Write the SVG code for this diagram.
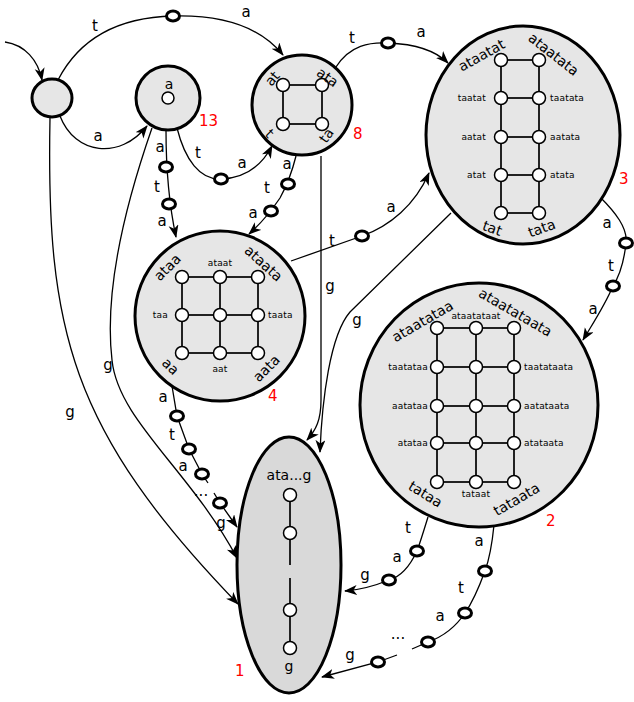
<svg xmlns="http://www.w3.org/2000/svg" width="634" height="702" viewBox="0 0 634 702">
<defs>
<marker id="arr" markerUnits="userSpaceOnUse" markerWidth="14" markerHeight="12" refX="12" refY="5" orient="auto">
<path d="M0,0 L13,5 L0,10 L3.5,5 z" fill="#000"/>
</marker>
<style>
.node{fill:#e6e6e6;stroke:#000;stroke-width:3}
.n1{fill:#d9d9d9;stroke:#000;stroke-width:3}
.c{fill:none;stroke:#000;stroke-width:1.3}
.ca{fill:none;stroke:#000;stroke-width:1.3;marker-end:url(#arr)}
.st{fill:#fff;stroke:#000;stroke-width:3}
.g{stroke:#222;stroke-width:2;fill:none}
.v{fill:#fff;stroke:#000;stroke-width:1.5}
.lb{font-family:"DejaVu Sans",sans-serif;font-size:15px;text-anchor:middle;fill:#000}
.sm{font-family:"DejaVu Sans",sans-serif;font-size:9px;fill:#000;letter-spacing:0.2px}
.rl{font-family:"DejaVu Sans",sans-serif;font-size:14px;text-anchor:middle;fill:#000}
.red{font-family:"DejaVu Sans",sans-serif;font-size:15px;fill:#ff0000}
</style>
</defs>

<g id="connectors">
<path class="ca" d="M5,42 C25,45 38,60 42,80"/>
<path class="ca" d="M58,80 Q90,18 173,16 Q250,14 283,55"/>
<path class="ca" d="M60,116 C75,155 120,160 147,126"/>
<path class="ca" d="M50,118 C46,330 70,430 238,604"/>
<path class="ca" d="M152,128 C120,220 105,300 112,360 C118,420 190,470 237,558"/>
<path class="ca" d="M166,130 C166,160 167,195 176,237"/>
<path class="ca" d="M177,128 C185,160 200,180 221,179 C245,178 262,165 272,146"/>
<path class="ca" d="M296,156 Q290,180 280,198 Q265,220 249,234"/>
<path class="ca" d="M336,67 C350,45 370,42 388,43 C415,44 435,50 448,63"/>
<path class="ca" d="M321,156 L321,400 C321,420 316,430 307,440"/>
<path class="ca" d="M291,261 L362,236 C390,226 415,205 429,173"/>
<path class="ca" d="M451,213 L350,312 C330,335 322,400 320,452"/>
<path class="ca" d="M600,197 C615,212 628,228 626,243 C624,262 620,275 613,286 C605,305 595,320 583,340"/>
<path class="c" d="M172,386 L177,416 L189,449 L202,474 L208,483"/>
<path class="ca" d="M214,493 L220,503 L237,527"/>
<path class="ca" d="M428,517 C424,530 420,543 417,551 C410,566 400,577 389,580 C372,587 358,590 345,591"/>
<path class="c" d="M494,525 C492,545 489,560 485,571 C478,590 472,603 465,613 C455,628 442,637 428,642 L412,649"/>
<path class="ca" d="M397,655 L378,662 L322,677"/>
<ellipse class="st" cx="173" cy="16" rx="6.5" ry="5"/>
<ellipse class="st" cx="166" cy="167" rx="6.5" ry="5"/>
<ellipse class="st" cx="169" cy="204" rx="6.5" ry="5"/>
<ellipse class="st" cx="221" cy="179" rx="6.5" ry="5"/>
<ellipse class="st" cx="288" cy="184" rx="6.5" ry="5"/>
<ellipse class="st" cx="271" cy="211" rx="6.5" ry="5"/>
<ellipse class="st" cx="388" cy="43" rx="6.5" ry="5"/>
<ellipse class="st" cx="362" cy="236" rx="6.5" ry="5"/>
<ellipse class="st" cx="626" cy="243" rx="6.5" ry="5"/>
<ellipse class="st" cx="613" cy="286" rx="6.5" ry="5"/>
<ellipse class="st" cx="177" cy="416" rx="6.5" ry="5"/>
<ellipse class="st" cx="189" cy="449" rx="6.5" ry="5"/>
<ellipse class="st" cx="202" cy="474" rx="6.5" ry="5"/>
<ellipse class="st" cx="220" cy="503" rx="6.5" ry="5"/>
<ellipse class="st" cx="417" cy="551" rx="6.5" ry="5"/>
<ellipse class="st" cx="389" cy="580" rx="6.5" ry="5"/>
<ellipse class="st" cx="485" cy="571" rx="6.5" ry="5"/>
<ellipse class="st" cx="465" cy="613" rx="6.5" ry="5"/>
<ellipse class="st" cx="428" cy="642" rx="6.5" ry="5"/>
<ellipse class="st" cx="378" cy="662" rx="6.5" ry="5"/>
<text class="lb" x="95" y="31">t</text>
<text class="lb" x="246" y="17">a</text>
<text class="lb" x="98" y="141">a</text>
<text class="lb" x="160" y="152">a</text>
<text class="lb" x="157" y="192">t</text>
<text class="lb" x="162" y="226">a</text>
<text class="lb" x="198" y="158">t</text>
<text class="lb" x="242" y="168">a</text>
<text class="lb" x="287" y="169">a</text>
<text class="lb" x="267" y="193">t</text>
<text class="lb" x="253" y="218">a</text>
<text class="lb" x="352" y="43">t</text>
<text class="lb" x="421" y="37">a</text>
<text class="lb" x="330" y="291">g</text>
<text class="lb" x="357" y="325">g</text>
<text class="lb" x="332" y="246">t</text>
<text class="lb" x="391" y="212">a</text>
<text class="lb" x="607" y="228">a</text>
<text class="lb" x="611" y="271">t</text>
<text class="lb" x="593" y="314">a</text>
<text class="lb" x="70" y="417">g</text>
<text class="lb" x="108" y="370">g</text>
<text class="lb" x="163" y="402">a</text>
<text class="lb" x="172" y="440">t</text>
<text class="lb" x="183" y="471">a</text>
<text class="lb" x="201" y="496">...</text>
<text class="lb" x="221" y="528">g</text>
<text class="lb" x="408" y="533">t</text>
<text class="lb" x="397" y="562">a</text>
<text class="lb" x="365" y="580">g</text>
<text class="lb" x="479" y="546">a</text>
<text class="lb" x="461" y="593">t</text>
<text class="lb" x="440" y="621">a</text>
<text class="lb" x="398" y="639">...</text>
<text class="lb" x="350" y="660">g</text>
</g>

<g id="start">
<ellipse class="node" cx="52" cy="98" rx="20" ry="19"/>
</g>

<g id="node13">
<circle class="node" cx="168" cy="98" r="32"/>
<circle class="v" cx="168" cy="98" r="6"/>
<text class="rl" x="169" y="89">a</text>
<text class="red" x="199" y="126">13</text>
</g>

<g id="node8">
<circle class="node" cx="302" cy="105" r="50"/>
<path class="g" d="M283,85 H322 V124 H283 Z"/>
<circle class="v" cx="283" cy="85" r="6.5"/>
<circle class="v" cx="322" cy="85" r="6.5"/>
<circle class="v" cx="283" cy="124" r="6.5"/>
<circle class="v" cx="322" cy="124" r="6.5"/>
<text class="rl" transform="translate(273,79) rotate(-50)" y="4">at</text>
<text class="rl" transform="translate(327,78) rotate(35)" y="4">ata</text>
<text class="rl" transform="translate(269,134) rotate(45)" y="4">t</text>
<text class="rl" transform="translate(327,136) rotate(-55)" y="4">ta</text>
<text class="red" x="353" y="139">8</text>
</g>

<g id="node3">
<ellipse class="node" cx="523" cy="135" rx="97" ry="109"/>
<path class="g" d="M501,60 V213 M539,60 V213 M501,60 H539 M501,98 H539 M501,137 H539 M501,175 H539 M501,213 H539"/>
<circle class="v" cx="501" cy="60" r="6.5"/><circle class="v" cx="539" cy="60" r="6.5"/>
<circle class="v" cx="501" cy="98" r="6.5"/><circle class="v" cx="539" cy="98" r="6.5"/>
<circle class="v" cx="501" cy="137" r="6.5"/><circle class="v" cx="539" cy="137" r="6.5"/>
<circle class="v" cx="501" cy="175" r="6.5"/><circle class="v" cx="539" cy="175" r="6.5"/>
<circle class="v" cx="501" cy="213" r="6.5"/><circle class="v" cx="539" cy="213" r="6.5"/>
<text class="sm" x="486" y="101" text-anchor="end">taatat</text>
<text class="sm" x="486" y="140" text-anchor="end">aatat</text>
<text class="sm" x="486" y="178" text-anchor="end">atat</text>
<text class="sm" x="550" y="101">taatata</text>
<text class="sm" x="550" y="140">aatata</text>
<text class="sm" x="550" y="178">atata</text>
<text class="rl" transform="translate(482,56) rotate(-29)" y="4">ataatat</text>
<text class="rl" transform="translate(553,55) rotate(38)" y="4">ataatata</text>
<text class="rl" transform="translate(492,229) rotate(20)" y="4">tat</text>
<text class="rl" transform="translate(542,229) rotate(-20)" y="4">tata</text>
<text class="red" x="619" y="184">3</text>
</g>

<g id="node4">
<circle class="node" cx="220" cy="316" r="85"/>
<path class="g" d="M182,277 V353 M220,277 V353 M258,277 V353 M182,277 H258 M182,315 H258 M182,353 H258"/>
<circle class="v" cx="182" cy="277" r="6.5"/><circle class="v" cx="220" cy="277" r="6.5"/><circle class="v" cx="258" cy="277" r="6.5"/>
<circle class="v" cx="182" cy="315" r="6.5"/><circle class="v" cx="220" cy="315" r="6.5"/><circle class="v" cx="258" cy="315" r="6.5"/>
<circle class="v" cx="182" cy="353" r="6.5"/><circle class="v" cx="220" cy="353" r="6.5"/><circle class="v" cx="258" cy="353" r="6.5"/>
<text class="sm" x="220" y="266" text-anchor="middle">ataat</text>
<text class="sm" x="220" y="372" text-anchor="middle">aat</text>
<text class="sm" x="168" y="318" text-anchor="end">taa</text>
<text class="sm" x="268" y="318">taata</text>
<text class="rl" transform="translate(168,268) rotate(-45)" y="4">ataa</text>
<text class="rl" transform="translate(263,264) rotate(42)" y="4">ataata</text>
<text class="rl" transform="translate(170,367) rotate(45)" y="4">aa</text>
<text class="rl" transform="translate(267,369) rotate(-45)" y="4">aata</text>
<text class="red" x="268" y="401">4</text>
</g>

<g id="node2">
<ellipse class="node" cx="479" cy="405" rx="119" ry="122"/>
<path class="g" d="M437,328 V482 M476,328 V482 M514,328 V482 M437,328 H514 M437,367 H514 M437,406 H514 M437,443 H514 M437,482 H514"/>
<circle class="v" cx="437" cy="328" r="6.5"/><circle class="v" cx="476" cy="328" r="6.5"/><circle class="v" cx="514" cy="328" r="6.5"/>
<circle class="v" cx="437" cy="367" r="6.5"/><circle class="v" cx="476" cy="367" r="6.5"/><circle class="v" cx="514" cy="367" r="6.5"/>
<circle class="v" cx="437" cy="406" r="6.5"/><circle class="v" cx="476" cy="406" r="6.5"/><circle class="v" cx="514" cy="406" r="6.5"/>
<circle class="v" cx="437" cy="443" r="6.5"/><circle class="v" cx="476" cy="443" r="6.5"/><circle class="v" cx="514" cy="443" r="6.5"/>
<circle class="v" cx="437" cy="482" r="6.5"/><circle class="v" cx="476" cy="482" r="6.5"/><circle class="v" cx="514" cy="482" r="6.5"/>
<text class="sm" x="476" y="319" text-anchor="middle">ataatataat</text>
<text class="sm" x="476" y="497" text-anchor="middle">tataat</text>
<text class="sm" x="428" y="370" text-anchor="end">taatataa</text>
<text class="sm" x="428" y="409" text-anchor="end">aatataa</text>
<text class="sm" x="428" y="446" text-anchor="end">atataa</text>
<text class="sm" x="524" y="370">taatataata</text>
<text class="sm" x="524" y="409">aatataata</text>
<text class="sm" x="524" y="446">atataata</text>
<text class="rl" transform="translate(423,322) rotate(-30)" y="4">ataatataa</text>
<text class="rl" transform="translate(515,313) rotate(30)" y="4">ataatataata</text>
<text class="rl" transform="translate(425,495) rotate(32)" y="4">tataa</text>
<text class="rl" transform="translate(517,500) rotate(-30)" y="4">tataata</text>
<text class="red" x="546" y="526">2</text>
</g>

<g id="node1">
<ellipse class="n1" cx="289" cy="565" rx="52" ry="128"/>
<path class="g" d="M290,495 V565 M290,578 V648"/>
<circle class="v" cx="290" cy="495" r="6.5"/>
<circle class="v" cx="290" cy="533" r="6.5"/>
<circle class="v" cx="290" cy="610" r="6.5"/>
<circle class="v" cx="290" cy="648" r="6.5"/>
<text class="rl" x="289" y="480">ata...g</text>
<text class="rl" x="289" y="671">g</text>
<text class="red" x="235" y="676">1</text>
</g>
</svg>
